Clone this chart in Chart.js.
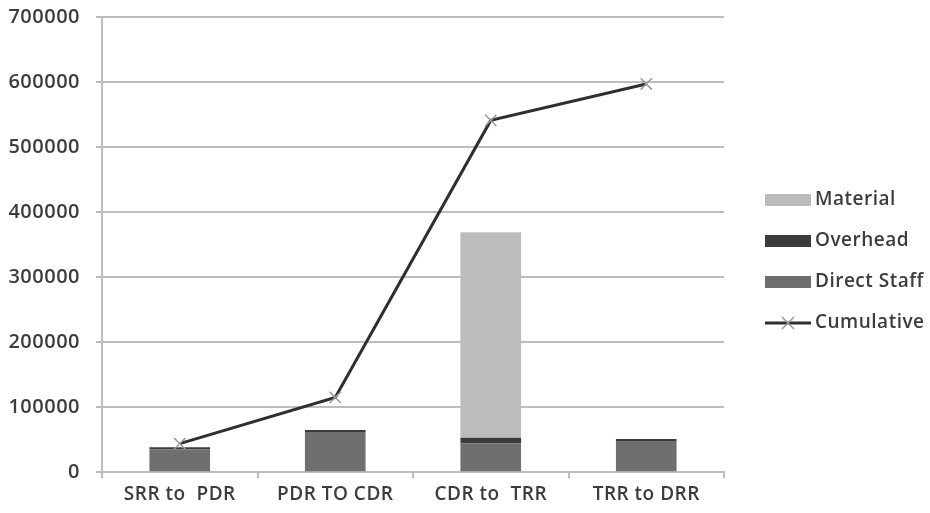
<!DOCTYPE html>
<html>
<head>
<meta charset="utf-8">
<script src="https://cdn.jsdelivr.net/npm/chart.js@4.4.1/dist/chart.umd.min.js"></script>
<style>
  html, body { margin: 0; padding: 0; background: #fff; }
  #wrap { width: 930px; height: 513px; position: relative; }
</style>
</head>
<body>
<div id="wrap"><canvas id="c" width="930" height="513"></canvas></div>
<script>
// Phase-by-phase cost breakdown with running total
const phases = ['SRR to  PDR', 'PDR TO CDR', 'CDR to  TRR', 'TRR to DRR'];
const directStaff = [35000, 62000, 44000, 47000];
const overhead = [3500, 3000, 9000, 4000];
const material = [0, 0, 316000, 0];
const cumulative = [44000, 115000, 541000, 597000];
const yTicks = [0, 100000, 200000, 300000, 400000, 500000, 600000, 700000];

const textColor = '#3c3c3c';
const gridColor = '#bdbdbd';
const fontFamily = '"Open Sans", "Liberation Sans", sans-serif';

const legendItems = [
  { label: 'Material', color: '#bcbcbc', kind: 'box' },
  { label: 'Overhead', color: '#3c3c3c', kind: 'box' },
  { label: 'Direct Staff', color: '#6f6f6f', kind: 'box' },
  { label: 'Cumulative', color: '#2f2f2f', kind: 'line' }
];

// Slightly looser text tracking for all labels
const tracking = {
  id: 'tracking',
  beforeDraw(chart) { chart.ctx.letterSpacing = '0.5px'; }
};

// Legend drawn to the right of the plot area
const sideLegend = {
  id: 'sideLegend',
  afterDraw(chart) {
    const ctx = chart.ctx;
    const x0 = 765, boxW = 46, boxH = 12, textX = 815;
    const y0 = 200, step = 41;
    ctx.save();
    ctx.letterSpacing = '0.5px';
    ctx.font = '600 19px ' + fontFamily;
    ctx.textBaseline = 'middle';
    legendItems.forEach((it, i) => {
      const y = y0 + i * step;
      if (it.kind === 'box') {
        ctx.fillStyle = it.color;
        ctx.fillRect(x0, y - boxH / 2, boxW, boxH);
      } else {
        ctx.strokeStyle = it.color;
        ctx.lineWidth = 3;
        ctx.beginPath();
        ctx.moveTo(x0, y);
        ctx.lineTo(x0 + boxW, y);
        ctx.stroke();
        ctx.strokeStyle = '#9a9a9a';
        ctx.lineWidth = 1.5;
        const cx = x0 + boxW / 2, r = 6;
        ctx.beginPath();
        ctx.moveTo(cx - r, y - r); ctx.lineTo(cx + r, y + r);
        ctx.moveTo(cx + r, y - r); ctx.lineTo(cx - r, y + r);
        ctx.stroke();
      }
      ctx.fillStyle = textColor;
      ctx.fillText(it.label, textX, y);
    });
    ctx.restore();
  }
};

new Chart(document.getElementById('c'), {
  type: 'bar',
  data: {
    labels: phases,
    datasets: [
      {
        type: 'line',
        label: 'Cumulative',
        data: cumulative,
        borderColor: '#2f2f2f',
        borderWidth: 3,
        pointStyle: 'crossRot',
        pointRadius: 8,
        pointBorderColor: '#9a9a9a',
        pointBorderWidth: 1.5,
        tension: 0,
        order: 0
      },
      { label: 'Direct Staff', data: directStaff, backgroundColor: '#6f6f6f', stack: 's', order: 1 },
      { label: 'Overhead', data: overhead, backgroundColor: '#3c3c3c', stack: 's', order: 1 },
      { label: 'Material', data: material, backgroundColor: '#bcbcbc', stack: 's', order: 1 }
    ]
  },
  options: {
    responsive: false,
    animation: false,
    devicePixelRatio: 1,
    layout: { padding: { left: 0, right: 206, top: 17, bottom: 2 } },
    plugins: { legend: { display: false }, tooltip: { enabled: false } },
    datasets: { bar: { categoryPercentage: 1, barPercentage: 0.39 } },
    scales: {
      x: {
        stacked: true,
        offset: true,
        grid: { display: true, drawOnChartArea: false, color: gridColor, lineWidth: 2, tickLength: 6, offset: true },
        border: { color: gridColor, width: 2 },
        ticks: { color: textColor, font: { family: fontFamily, size: 19, weight: '600' }, padding: 5, maxRotation: 0 }
      },
      y: {
        stacked: true,
        min: 0,
        max: 700000,
        afterBuildTicks(axis) { axis.ticks = yTicks.map(v => ({ value: v })); },
        afterFit(axis) { axis.width = 102; axis.paddingTop = 0; },
        grid: { color: gridColor, lineWidth: 2, tickLength: 6 },
        border: { color: gridColor, width: 2 },
        ticks: {
          color: textColor,
          font: { family: fontFamily, size: 20, weight: '600' },
          padding: 16,
          callback: (v) => String(v)
        }
      }
    }
  },
  plugins: [tracking, sideLegend]
});
</script>
</body>
</html>
